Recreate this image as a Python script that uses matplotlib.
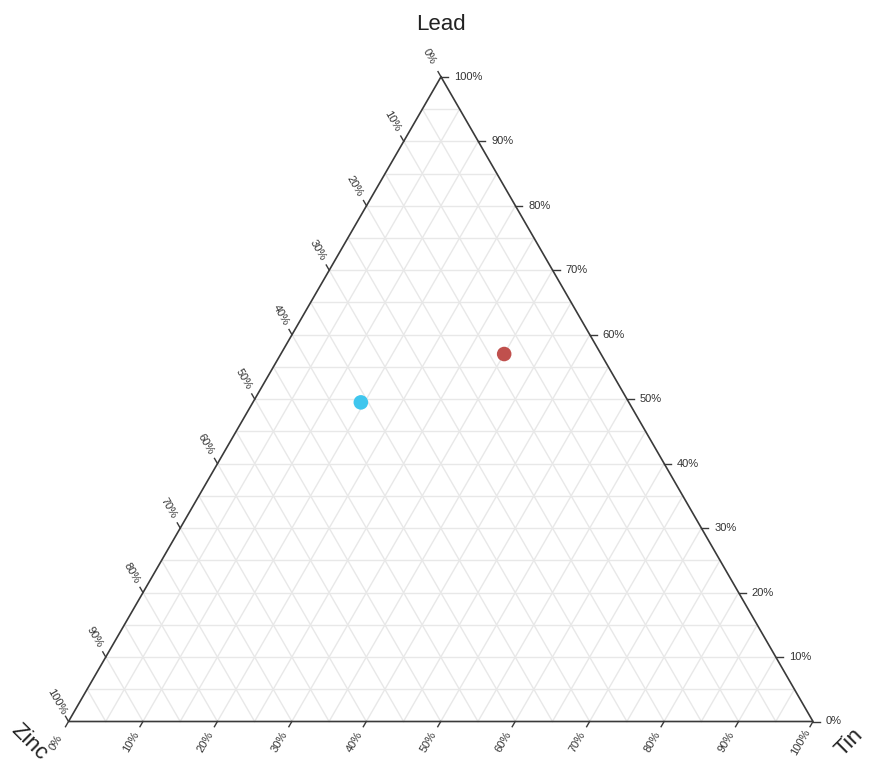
import numpy as np
import matplotlib
matplotlib.use("Agg")
import matplotlib.pyplot as plt

# ---- data ----
names = ["Sample A", "Sample B"]
lead = [57.0, 49.5]
tin = [30.0, 14.5]
zinc = [13.0, 36.0]
colors = ["#c0504d", "#3fc6ee"]
tick_values = [0, 10, 20, 30, 40, 50, 60, 70, 80, 90, 100]
tick_labels = [f"{v}%" for v in tick_values]
axis_titles = ["Lead", "Zinc", "Tin"]

plt.rcParams['font.family'] = ['Liberation Sans', 'DejaVu Sans']

W, H = 870, 763
fig = plt.figure(figsize=(W / 100, H / 100), dpi=100)
ax = fig.add_axes([0, 0, 1, 1])
ax.set_xlim(0, W)
ax.set_ylim(H, 0)
ax.axis("off")

A = np.array([441.0, 76.8])   # Lead corner
B = np.array([68.5, 721.5])   # Zinc corner
C = np.array([813.0, 721.5])  # Tin corner


def to_xy(l, z, t):
    s = l + z + t
    return (l * A + z * B + t * C) / s


grid_c = "#e8e8e8"
for k in range(1, 20):
    f = k / 20
    # constant lead
    p1, p2 = to_xy(f, 1 - f, 0), to_xy(f, 0, 1 - f)
    ax.plot([p1[0], p2[0]], [p1[1], p2[1]], color=grid_c, lw=1, zorder=1)
    # constant tin
    p1, p2 = to_xy(0, 1 - f, f), to_xy(1 - f, 0, f)
    ax.plot([p1[0], p2[0]], [p1[1], p2[1]], color=grid_c, lw=1, zorder=1)
    # constant zinc
    p1, p2 = to_xy(0, f, 1 - f), to_xy(1 - f, f, 0)
    ax.plot([p1[0], p2[0]], [p1[1], p2[1]], color=grid_c, lw=1, zorder=1)

edge_c = "#3a3a3a"
tri = np.array([A, B, C, A])
ax.plot(tri[:, 0], tri[:, 1], color=edge_c, lw=1.2, zorder=2, solid_joinstyle="miter")

tick_len = 6
fs = 8
lab_c = "#333333"
dl = np.array([-0.5, -0.866])
db = np.array([-0.5, 0.866])
dr = np.array([1.0, 0.0])
for v, lab in zip(tick_values, tick_labels):
    f = v / 100
    # left axis: zinc
    p = to_xy(1 - f, f, 0)
    q = p + dl * tick_len
    ax.plot([p[0], q[0]], [p[1], q[1]], color=edge_c, lw=1, zorder=2)
    c = p + dl * 23
    ax.text(c[0], c[1], lab, rotation=-60, ha="center", va="center",
            fontsize=fs, color=lab_c, rotation_mode="anchor")
    # bottom axis: tin
    p = to_xy(0, 1 - f, f)
    q = p + db * tick_len
    ax.plot([p[0], q[0]], [p[1], q[1]], color=edge_c, lw=1, zorder=2)
    c = p + db * 24
    ax.text(c[0], c[1], lab, rotation=60, ha="center", va="center",
            fontsize=fs, color=lab_c, rotation_mode="anchor")
    # right axis: lead
    p = to_xy(f, 0, 1 - f)
    q = p + dr * (tick_len + 1)
    ax.plot([p[0], q[0]], [p[1], q[1]], color=edge_c, lw=1, zorder=2)
    ax.text(p[0] + 13, p[1], lab, ha="left", va="center",
            fontsize=fs, color=lab_c)

ax.text(441, 24, axis_titles[0], ha="center", va="center", fontsize=16, color="#222222")
ax.text(29, 742, axis_titles[1], ha="center", va="center", fontsize=16,
        rotation=-45, color="#222222", rotation_mode="anchor")
ax.text(849, 742, axis_titles[2], ha="center", va="center", fontsize=16,
        rotation=45, color="#222222", rotation_mode="anchor")

for n, l, t, z, col in zip(names, lead, tin, zinc, colors):
    p = to_xy(l, z, t)
    ax.scatter([p[0]], [p[1]], s=110, color=col, zorder=5, edgecolors="none")

fig.savefig("out.png", dpi=100)
